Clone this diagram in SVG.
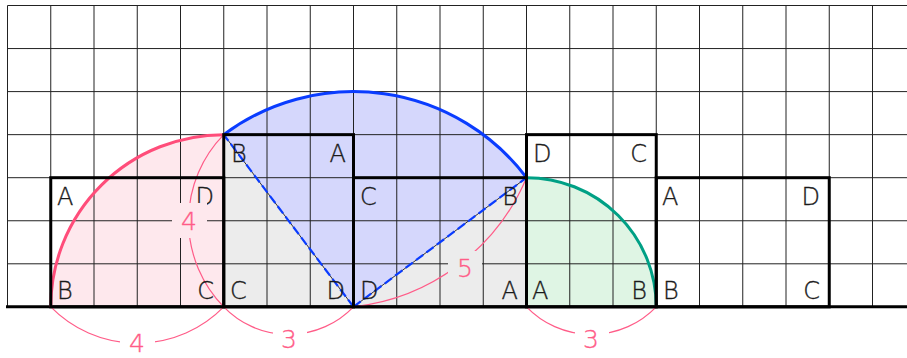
<svg xmlns="http://www.w3.org/2000/svg" width="907" height="358" viewBox="0 0 907 358">
<style>
.grid line{stroke:#222;stroke-width:1}
.box{fill:none;stroke:#000;stroke-width:3}
.lbl{font-family:"DejaVu Sans","Liberation Sans",sans-serif;font-size:24px;font-weight:200;fill:#1a1a1a;stroke:#1a1a1a;stroke-width:0.35}
.end{text-anchor:end}
.dim{fill:none;stroke:#ff5c88;stroke-width:1.2}
.num{font-family:"DejaVu Sans","Liberation Sans",sans-serif;font-size:25px;font-weight:200;fill:#ff5c88;stroke:#ff5c88;stroke-width:0.35;text-anchor:middle}
.gray{fill:#ececec}
</style>
<rect width="907" height="358" fill="#fff"/>
<g id="fills">
<rect class="gray" x="223.75" y="134.65" width="129.75" height="172.2"/>
<rect class="gray" x="353.5" y="177.7" width="173" height="129.15"/>
<path id="pinkFill" d="M223.75,306.85 L50.75,306.85 A173,172.2 0 0 1 223.75,134.65 Z" fill="#fee8ed"/>
<path id="blueFill" d="M353.5,306.85 L223.75,134.65 A216.25,215.25 0 0 1 526.5,177.7 Z" fill="#d5d7fc"/>
<path id="greenFill" d="M526.5,306.85 L526.5,177.7 A129.75,129.15 0 0 1 656.25,306.85 Z" fill="#dff5e4"/>
</g>
<g class="grid">
<line x1="7.5" y1="5.5" x2="907" y2="5.5"/>
<line x1="7.5" y1="48.55" x2="907" y2="48.55"/>
<line x1="7.5" y1="91.6" x2="907" y2="91.6"/>
<line x1="7.5" y1="134.65" x2="907" y2="134.65"/>
<line x1="7.5" y1="177.7" x2="907" y2="177.7"/>
<line x1="7.5" y1="220.75" x2="907" y2="220.75"/>
<line x1="7.5" y1="263.8" x2="907" y2="263.8"/>
<line x1="7.5" y1="5.5" x2="7.5" y2="306.85"/>
<line x1="50.75" y1="5.5" x2="50.75" y2="306.85"/>
<line x1="94" y1="5.5" x2="94" y2="306.85"/>
<line x1="137.25" y1="5.5" x2="137.25" y2="306.85"/>
<line x1="180.5" y1="5.5" x2="180.5" y2="306.85"/>
<line x1="223.75" y1="5.5" x2="223.75" y2="306.85"/>
<line x1="267" y1="5.5" x2="267" y2="306.85"/>
<line x1="310.25" y1="5.5" x2="310.25" y2="306.85"/>
<line x1="353.5" y1="5.5" x2="353.5" y2="306.85"/>
<line x1="396.75" y1="5.5" x2="396.75" y2="306.85"/>
<line x1="440" y1="5.5" x2="440" y2="306.85"/>
<line x1="483.25" y1="5.5" x2="483.25" y2="306.85"/>
<line x1="526.5" y1="5.5" x2="526.5" y2="306.85"/>
<line x1="569.75" y1="5.5" x2="569.75" y2="306.85"/>
<line x1="613" y1="5.5" x2="613" y2="306.85"/>
<line x1="656.25" y1="5.5" x2="656.25" y2="306.85"/>
<line x1="699.5" y1="5.5" x2="699.5" y2="306.85"/>
<line x1="742.75" y1="5.5" x2="742.75" y2="306.85"/>
<line x1="786" y1="5.5" x2="786" y2="306.85"/>
<line x1="829.25" y1="5.5" x2="829.25" y2="306.85"/>
<line x1="872.5" y1="5.5" x2="872.5" y2="306.85"/>
</g>
<line x1="6" y1="306.85" x2="907" y2="306.85" stroke="#000" stroke-width="3"/>
<g id="connectors">
<path class="dim" d="M50.75,306.85 A121,121 0 0 0 223.75,306.85"/>
<path class="dim" d="M223.75,306.85 A90,90 0 0 0 353.5,306.85"/>
<path class="dim" d="M526.5,306.85 A90,90 0 0 0 656.25,306.85"/>
<path class="dim" d="M223.75,134.65 A123,123 0 0 0 223.75,306.85"/>
<path class="dim" d="M353.5,306.85 A213,213 0 0 0 526.5,177.7"/>
<line x1="353.5" y1="306.85" x2="223.75" y2="134.65" stroke="#000" stroke-width="0.8"/>
<line x1="353.5" y1="306.85" x2="526.5" y2="177.7" stroke="#000" stroke-width="0.8"/>
<line x1="353.5" y1="306.85" x2="223.75" y2="134.65" stroke="#0a3cff" stroke-width="2.2" stroke-dasharray="9,4"/>
<line x1="353.5" y1="306.85" x2="526.5" y2="177.7" stroke="#0a3cff" stroke-width="2.2" stroke-dasharray="9,4"/>
</g>
<g id="arcs">
<path d="M50.75,306.85 A173,172.2 0 0 1 223.75,134.65" fill="none" stroke="#ff4d7a" stroke-width="3"/>
<path d="M223.75,134.65 A216.25,215.25 0 0 1 526.5,177.7" fill="none" stroke="#0a3cff" stroke-width="3"/>
<path d="M526.5,177.7 A129.75,129.15 0 0 1 656.25,306.85" fill="none" stroke="#00a085" stroke-width="3"/>
</g>
<g id="rect1">
<rect class="box" x="50.75" y="177.7" width="173" height="129.15"/>
<text class="lbl" x="57" y="205">A</text>
<text class="lbl end" x="214" y="205">D</text>
<text class="lbl" x="57" y="299">B</text>
<text class="lbl end" x="214" y="299">C</text>
</g>
<g id="rect2">
<rect class="box" x="223.75" y="134.65" width="129.75" height="172.2"/>
<text class="lbl" x="231" y="162">B</text>
<text class="lbl end" x="346" y="162">A</text>
<text class="lbl" x="230" y="299">C</text>
<text class="lbl end" x="345" y="299">D</text>
</g>
<g id="rect3">
<rect class="box" x="353.5" y="177.7" width="173" height="129.15"/>
<text class="lbl" x="360" y="205">C</text>
<text class="lbl end" x="518" y="205">B</text>
<text class="lbl" x="360" y="299">D</text>
<text class="lbl end" x="518" y="299">A</text>
</g>
<g id="rect4">
<rect class="box" x="526.5" y="134.65" width="129.75" height="172.2"/>
<text class="lbl" x="533" y="162">D</text>
<text class="lbl end" x="647" y="162">C</text>
<text class="lbl" x="532" y="299">A</text>
<text class="lbl end" x="647" y="299">B</text>
</g>
<g id="rect5">
<rect class="box" x="656.25" y="177.7" width="173" height="129.15"/>
<text class="lbl" x="662" y="205">A</text>
<text class="lbl end" x="820" y="205">D</text>
<text class="lbl" x="663" y="299">B</text>
<text class="lbl end" x="820" y="299">C</text>
</g>
<g id="dimLabels">
<rect x="172" y="203" width="35" height="35" fill="#fee8ed"/>
<text class="num" x="189" y="230">4</text>
<rect x="448" y="251" width="34" height="34" fill="#ececec"/>
<text class="num" x="465" y="277">5</text>
<rect x="120" y="328" width="35" height="30" fill="#fff"/>
<text class="num" x="137" y="352">4</text>
<rect x="273" y="322" width="34" height="30" fill="#fff"/>
<text class="num" x="289" y="348">3</text>
<rect x="575" y="322" width="34" height="30" fill="#fff"/>
<text class="num" x="591" y="348">3</text>
</g>
</svg>
